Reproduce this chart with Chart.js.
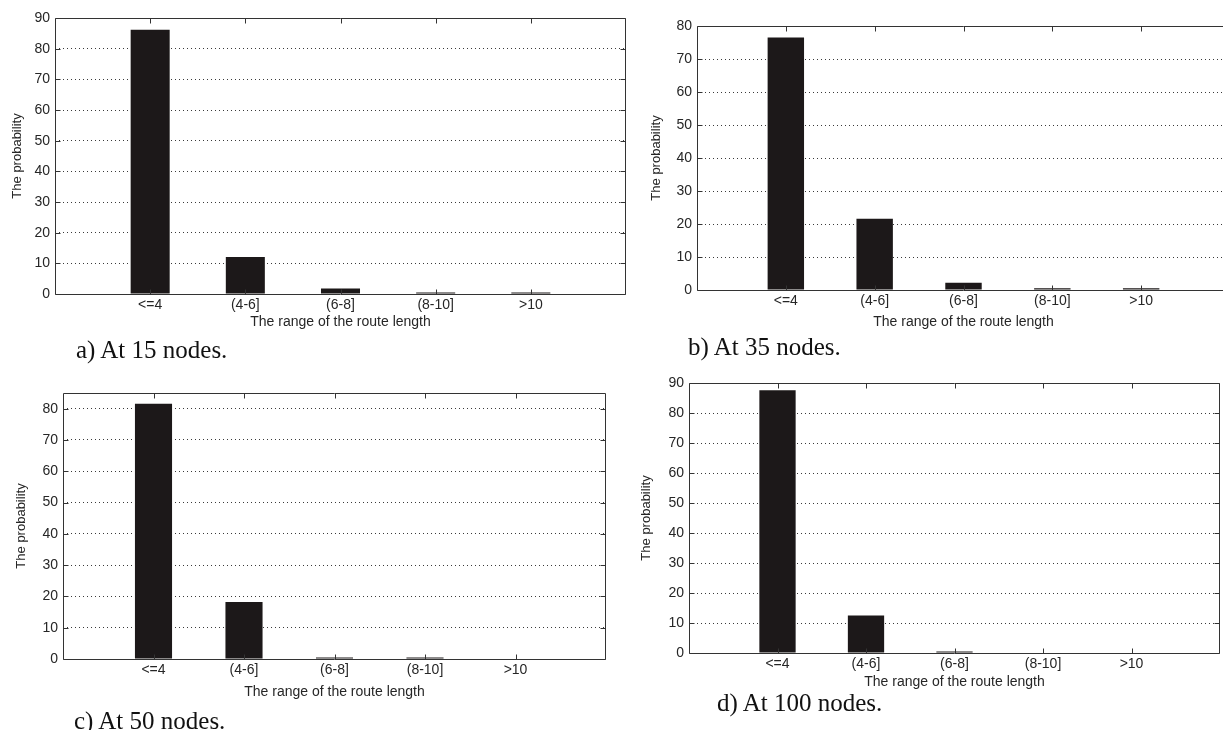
<!DOCTYPE html>
<html>
<head>
<meta charset="utf-8">
<script src="https://cdn.jsdelivr.net/npm/chart.js@4"></script>
<style>
  html, body { margin: 0; padding: 0; background: #fff; overflow: hidden; }
  body { width: 1223px; height: 730px; position: relative; }
  .panel { position: absolute; }
  .caption {
    position: absolute;
    font-family: "Liberation Serif", "Times New Roman", serif;
    font-size: 25px;
    line-height: 28px;
    color: #111;
    white-space: nowrap;
  }
</style>
</head>
<body>
<div class="panel" id="pa"><canvas id="chartA"></canvas></div>
<div class="panel" id="pb"><canvas id="chartB"></canvas></div>
<div class="panel" id="pc"><canvas id="chartC"></canvas></div>
<div class="panel" id="pd"><canvas id="chartD"></canvas></div>
<div class="caption" id="capA"></div>
<div class="caption" id="capB"></div>
<div class="caption" id="capC"></div>
<div class="caption" id="capD"></div>
<script>
// data
const categories = ['<=4', '(4-6]', '(6-8]', '(8-10]', '>10'];
const prob15 = [86.2, 12.1, 1.8, 0.5, 0.5];
const prob35 = [76.5, 21.6, 2.2, 0.5, 0.5];
const prob50 = [81.6, 18.2, 0.5, 0.5, 0];
const prob100 = [87.6, 12.5, 0.5, 0, 0];
const yMax = [90, 80, 85, 90];
const captions = ['a) At 15 nodes.', 'b) At 35 nodes.', 'c) At 50 nodes.', 'd) At 100 nodes.'];
const xTitle = 'The range of the route length';
const yTitle = 'The probability';

// layout: canvas box + plot area in page pixels
const panels = [
    { id: 'A', box: [0, 0, 640, 340],   plot: [55, 18, 626, 294],   yTitleX: 18,  xTitleY: 322, cap: [76, 336] },
    { id: 'B', box: [630, 0, 610, 340], plot: [697, 26, 1230, 290], yTitleX: 657, xTitleY: 322, cap: [688, 333] },
    { id: 'C', box: [0, 365, 640, 345], plot: [63, 393, 606, 659],  yTitleX: 22,  xTitleY: 692, cap: [74, 707] },
    { id: 'D', box: [630, 365, 600, 340], plot: [689, 383, 1220, 653], yTitleX: 647, xTitleY: 682, cap: [717, 689] }
];
const series = [prob15, prob35, prob50, prob100];

Chart.defaults.font.family = '"Liberation Sans", Arial, sans-serif';
Chart.defaults.color = '#262626';

const titleSize = 14;
const LH = titleSize * 1.2;

// matlab style box with inward ticks
const boxPlugin = {
    id: 'matlabBox',
    afterDatasetsDraw(chart) {
        const { ctx, chartArea: a, scales: { x, y } } = chart;
        const l = Math.round(a.left) + 0.5, r = Math.round(a.right) - 0.5;
        const t = Math.round(a.top) + 0.5, b = Math.round(a.bottom) + 0.5;
        ctx.save();
        ctx.strokeStyle = '#333';
        ctx.lineWidth = 1;
        ctx.beginPath();
        ctx.rect(l, t, r - l, b - t);
        x.ticks.forEach(tk => {
            if (tk.value < 1 || tk.value > categories.length) return;
            const px = Math.round(x.getPixelForValue(tk.value)) + 0.5;
            ctx.moveTo(px, b); ctx.lineTo(px, b - 5);
            ctx.moveTo(px, t); ctx.lineTo(px, t + 5);
        });
        y.ticks.forEach(tk => {
            const py = Math.round(y.getPixelForValue(tk.value)) + 0.5;
            ctx.moveTo(l, py); ctx.lineTo(l + 5, py);
            ctx.moveTo(r, py); ctx.lineTo(r - 5, py);
        });
        ctx.stroke();
        ctx.restore();
    }
};

panels.forEach((p, i) => {
    const [cx, cy, cw, ch] = p.box;
    const [L, T, R, B] = p.plot;
    const wrap = document.getElementById('p' + p.id.toLowerCase());
    wrap.style.left = cx + 'px';
    wrap.style.top = cy + 'px';
    wrap.style.width = cw + 'px';
    wrap.style.height = ch + 'px';
    const canvas = document.getElementById('chart' + p.id);
    canvas.width = cw;
    canvas.height = ch;

    const yWidth = L - p.yTitleX + LH / 2;
    const xHeight = p.xTitleY - B + LH / 2;
    const max = yMax[i];

    new Chart(canvas.getContext('2d'), {
        type: 'bar',
        data: {
            datasets: [{
                data: series[i].map((v, k) => ({ x: k + 1, y: v })),
                backgroundColor: '#1c1819',
                borderWidth: 0,
                barPercentage: 0.41,
                categoryPercentage: 1
            }]
        },
        options: {
            responsive: false,
            animation: false,
            layout: {
                padding: {
                    left: L - cx - yWidth,
                    top: T - cy,
                    right: cx + cw - R,
                    bottom: cy + ch - B - xHeight
                }
            },
            plugins: {
                legend: { display: false },
                tooltip: { enabled: false }
            },
            scales: {
                x: {
                    type: 'linear',
                    min: 0,
                    max: categories.length + 1,
                    offset: false,
                    grid: { display: false, drawTicks: false },
                    border: { display: false },
                    ticks: {
                        stepSize: 1,
                        padding: 3,
                        autoSkip: false,
                        maxRotation: 0,
                        font: { size: 14 },
                        callback: v => categories[v - 1] || ''
                    },
                    title: {
                        display: true,
                        text: xTitle,
                        padding: 0,
                        font: { size: titleSize }
                    },
                    afterFit: s => { s.height = xHeight; }
                },
                y: {
                    min: 0,
                    max: max,
                    grid: {
                        drawTicks: false,
                        color: c => (c.tick.value === 0 || c.tick.value >= max) ? 'rgba(0,0,0,0)' : '#3a3a3a',
                        lineWidth: 1
                    },
                    border: { display: false, dash: [1, 3] },
                    ticks: {
                        stepSize: 10,
                        includeBounds: false,
                        padding: 5,
                        font: { size: 14 }
                    },
                    title: {
                        display: true,
                        text: yTitle,
                        padding: 0,
                        font: { size: 13 }
                    },
                    afterFit: s => { s.width = yWidth; }
                }
            }
        },
        plugins: [boxPlugin]
    });

    const cap = document.getElementById('cap' + p.id);
    cap.textContent = captions[i];
    cap.style.left = p.cap[0] + 'px';
    cap.style.top = p.cap[1] + 'px';
});
</script>
</body>
</html>
